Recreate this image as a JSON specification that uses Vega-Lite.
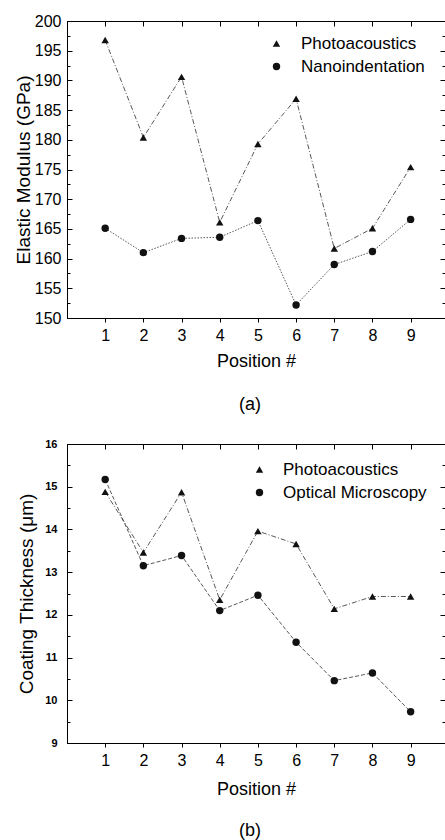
{
  "$schema": "https://vega.github.io/schema/vega-lite/v6.json",
  "padding": {"left": 13, "top": 12, "right": 0, "bottom": 0},
  "spacing": 22,
  "background": "white",
  "resolve": {
    "scale": {"shape": "independent"},
    "legend": {"shape": "independent"}
  },
  "config": {
    "font": "Liberation Sans",
    "view": {"stroke": "#000", "strokeWidth": 1},
    "axis": {
      "grid": false,
      "domainColor": "#000",
      "tickColor": "#000",
      "labelColor": "#000",
      "titleColor": "#000",
      "labelFont": "Liberation Sans",
      "titleFont": "Liberation Sans",
      "titleFontWeight": "normal"
    },
    "legend": {"labelFont": "Liberation Sans", "labelColor": "#000"},
    "title": {"font": "Liberation Sans", "fontWeight": "normal", "color": "#000"}
  },
  "datasets": {
    "modulus": [
      {"pos": 1, "value": 196.8, "series": "Photoacoustics"},
      {"pos": 2, "value": 180.4, "series": "Photoacoustics"},
      {"pos": 3, "value": 190.6, "series": "Photoacoustics"},
      {"pos": 4, "value": 166.1, "series": "Photoacoustics"},
      {"pos": 5, "value": 179.3, "series": "Photoacoustics"},
      {"pos": 6, "value": 186.9, "series": "Photoacoustics"},
      {"pos": 7, "value": 161.7, "series": "Photoacoustics"},
      {"pos": 8, "value": 165.1, "series": "Photoacoustics"},
      {"pos": 9, "value": 175.4, "series": "Photoacoustics"},
      {"pos": 1, "value": 165.1, "series": "Nanoindentation"},
      {"pos": 2, "value": 161.0, "series": "Nanoindentation"},
      {"pos": 3, "value": 163.4, "series": "Nanoindentation"},
      {"pos": 4, "value": 163.6, "series": "Nanoindentation"},
      {"pos": 5, "value": 166.4, "series": "Nanoindentation"},
      {"pos": 6, "value": 152.2, "series": "Nanoindentation"},
      {"pos": 7, "value": 159.0, "series": "Nanoindentation"},
      {"pos": 8, "value": 161.2, "series": "Nanoindentation"},
      {"pos": 9, "value": 166.6, "series": "Nanoindentation"}
    ],
    "thickness": [
      {"pos": 1, "value": 14.88, "series": "Photoacoustics"},
      {"pos": 2, "value": 13.46, "series": "Photoacoustics"},
      {"pos": 3, "value": 14.87, "series": "Photoacoustics"},
      {"pos": 4, "value": 12.35, "series": "Photoacoustics"},
      {"pos": 5, "value": 13.96, "series": "Photoacoustics"},
      {"pos": 6, "value": 13.66, "series": "Photoacoustics"},
      {"pos": 7, "value": 12.14, "series": "Photoacoustics"},
      {"pos": 8, "value": 12.43, "series": "Photoacoustics"},
      {"pos": 9, "value": 12.43, "series": "Photoacoustics"},
      {"pos": 1, "value": 15.17, "series": "Optical Microscopy"},
      {"pos": 2, "value": 13.15, "series": "Optical Microscopy"},
      {"pos": 3, "value": 13.39, "series": "Optical Microscopy"},
      {"pos": 4, "value": 12.10, "series": "Optical Microscopy"},
      {"pos": 5, "value": 12.46, "series": "Optical Microscopy"},
      {"pos": 6, "value": 11.36, "series": "Optical Microscopy"},
      {"pos": 7, "value": 10.46, "series": "Optical Microscopy"},
      {"pos": 8, "value": 10.64, "series": "Optical Microscopy"},
      {"pos": 9, "value": 9.73, "series": "Optical Microscopy"}
    ]
  },
  "vconcat": [
    {
      "width": 378,
      "height": 297,
      "data": {"name": "modulus"},
      "title": {"text": "(a)", "orient": "bottom", "fontSize": 18, "offset": 26, "anchor": "middle", "dx": -6},
      "resolve": {"axis": {"x": "independent", "y": "independent"}},
      "layer": [
        {
          "transform": [{"filter": "datum.series === 'Photoacoustics'"}],
          "mark": {"type": "line", "color": "#444", "strokeWidth": 0.9, "strokeDash": [5, 2, 1, 2]},
          "encoding": {
            "x": {"field": "pos", "type": "quantitative", "scale": {"domain": [0, 9.9], "nice": false},
              "axis": {"orient": "bottom", "values": [1, 2, 3, 4, 5, 6, 7, 8, 9], "format": "d", "labelFontSize": 16, "tickSize": 4, "labelPadding": 5,
                "title": "Position #", "titleFontSize": 18, "titlePadding": 9}},
            "y": {"field": "value", "type": "quantitative", "scale": {"domain": [150, 200], "nice": false, "zero": false},
              "axis": {"orient": "left", "values": [150, 155, 160, 165, 170, 175, 180, 185, 190, 195, 200], "labelFontSize": 16, "tickSize": -5, "labelPadding": 11,
                "title": "Elastic Modulus (GPa)", "titleFontSize": 19, "titlePadding": 1}}
          }
        },
        {
          "transform": [{"filter": "datum.series === 'Nanoindentation'"}],
          "mark": {"type": "line", "color": "#444", "strokeWidth": 0.9, "strokeDash": [1.5, 1.5]},
          "encoding": {
            "x": {"field": "pos", "type": "quantitative", "axis": null},
            "y": {"field": "value", "type": "quantitative", "axis": null}
          }
        },
        {
          "mark": {"type": "point", "filled": true, "opacity": 1, "color": "#111"},
          "encoding": {
            "x": {"field": "pos", "type": "quantitative",
              "axis": {"orient": "top", "values": [1, 2, 3, 4, 5, 6, 7, 8, 9], "labels": false, "tickSize": -5, "title": null}},
            "y": {"field": "value", "type": "quantitative",
              "axis": {"orient": "right", "values": [150, 155, 160, 165, 170, 175, 180, 185, 190, 195, 200], "labels": false, "tickSize": -5, "title": null}},
            "shape": {"field": "series", "type": "nominal",
              "scale": {"domain": ["Photoacoustics", "Nanoindentation"], "range": ["triangle-up", "circle"]},
              "legend": {"title": null, "orient": "none", "legendX": 201, "legendY": 14, "padding": 0, "labelFontSize": 17, "labelOffset": 16, "rowPadding": 5, "symbolSize": 55}},
            "size": {"value": 55}
          }
        },
        {
          "mark": {"type": "point", "opacity": 0},
          "encoding": {
            "x": {"field": "pos", "type": "quantitative", "axis": null},
            "y": {"field": "value", "type": "quantitative",
              "axis": {"orient": "left", "values": [152.5, 157.5, 162.5, 167.5, 172.5, 177.5, 182.5, 187.5, 192.5, 197.5], "labels": false, "domain": false, "tickSize": -3, "title": null}}
          }
        },
        {
          "mark": {"type": "point", "opacity": 0},
          "encoding": {
            "x": {"field": "pos", "type": "quantitative", "axis": null},
            "y": {"field": "value", "type": "quantitative",
              "axis": {"orient": "right", "values": [152.5, 157.5, 162.5, 167.5, 172.5, 177.5, 182.5, 187.5, 192.5, 197.5], "labels": false, "domain": false, "tickSize": -3, "title": null}}
          }
        }
      ]
    },
    {
      "width": 378,
      "height": 299,
      "data": {"name": "thickness"},
      "title": {"text": "(b)", "orient": "bottom", "fontSize": 18, "offset": 24, "anchor": "middle", "dx": -6},
      "resolve": {"axis": {"x": "independent", "y": "independent"}},
      "layer": [
        {
          "transform": [{"filter": "datum.series === 'Photoacoustics'"}],
          "mark": {"type": "line", "color": "#444", "strokeWidth": 0.9, "strokeDash": [5, 2, 1, 2]},
          "encoding": {
            "x": {"field": "pos", "type": "quantitative", "scale": {"domain": [0, 9.9], "nice": false},
              "axis": {"orient": "bottom", "values": [1, 2, 3, 4, 5, 6, 7, 8, 9], "format": "d", "labelFontSize": 16, "tickSize": 4, "labelPadding": 5,
                "title": "Position #", "titleFontSize": 18, "titlePadding": 12}},
            "y": {"field": "value", "type": "quantitative", "scale": {"domain": [9, 16], "nice": false, "zero": false},
              "axis": {"orient": "left", "values": [9, 10, 11, 12, 13, 14, 15, 16], "labelFontSize": 11, "labelFontWeight": "bold", "tickSize": -5, "labelPadding": 15,
                "title": "Coating Thickness (\u03bcm)", "titleFontSize": 19, "titlePadding": 8}}
          }
        },
        {
          "transform": [{"filter": "datum.series === 'Optical Microscopy'"}],
          "mark": {"type": "line", "color": "#444", "strokeWidth": 0.9, "strokeDash": [4, 2]},
          "encoding": {
            "x": {"field": "pos", "type": "quantitative", "axis": null},
            "y": {"field": "value", "type": "quantitative", "axis": null}
          }
        },
        {
          "mark": {"type": "point", "filled": true, "opacity": 1, "color": "#111"},
          "encoding": {
            "x": {"field": "pos", "type": "quantitative",
              "axis": {"orient": "top", "values": [1, 2, 3, 4, 5, 6, 7, 8, 9], "labels": false, "tickSize": -5, "title": null}},
            "y": {"field": "value", "type": "quantitative",
              "axis": {"orient": "right", "values": [9, 10, 11, 12, 13, 14, 15, 16], "labels": false, "tickSize": -5, "title": null}},
            "shape": {"field": "series", "type": "nominal",
              "scale": {"domain": ["Photoacoustics", "Optical Microscopy"], "range": ["triangle-up", "circle"]},
              "legend": {"title": null, "orient": "none", "legendX": 184, "legendY": 17, "padding": 0, "labelFontSize": 17, "labelOffset": 15, "rowPadding": 5, "symbolSize": 55}},
            "size": {"value": 55}
          }
        },
        {
          "mark": {"type": "point", "opacity": 0},
          "encoding": {
            "x": {"field": "pos", "type": "quantitative", "axis": null},
            "y": {"field": "value", "type": "quantitative",
              "axis": {"orient": "left", "values": [9.5, 10.5, 11.5, 12.5, 13.5, 14.5, 15.5], "labels": false, "domain": false, "tickSize": -3, "title": null}}
          }
        },
        {
          "mark": {"type": "point", "opacity": 0},
          "encoding": {
            "x": {"field": "pos", "type": "quantitative", "axis": null},
            "y": {"field": "value", "type": "quantitative",
              "axis": {"orient": "right", "values": [9.5, 10.5, 11.5, 12.5, 13.5, 14.5, 15.5], "labels": false, "domain": false, "tickSize": -3, "title": null}}
          }
        }
      ]
    }
  ]
}
